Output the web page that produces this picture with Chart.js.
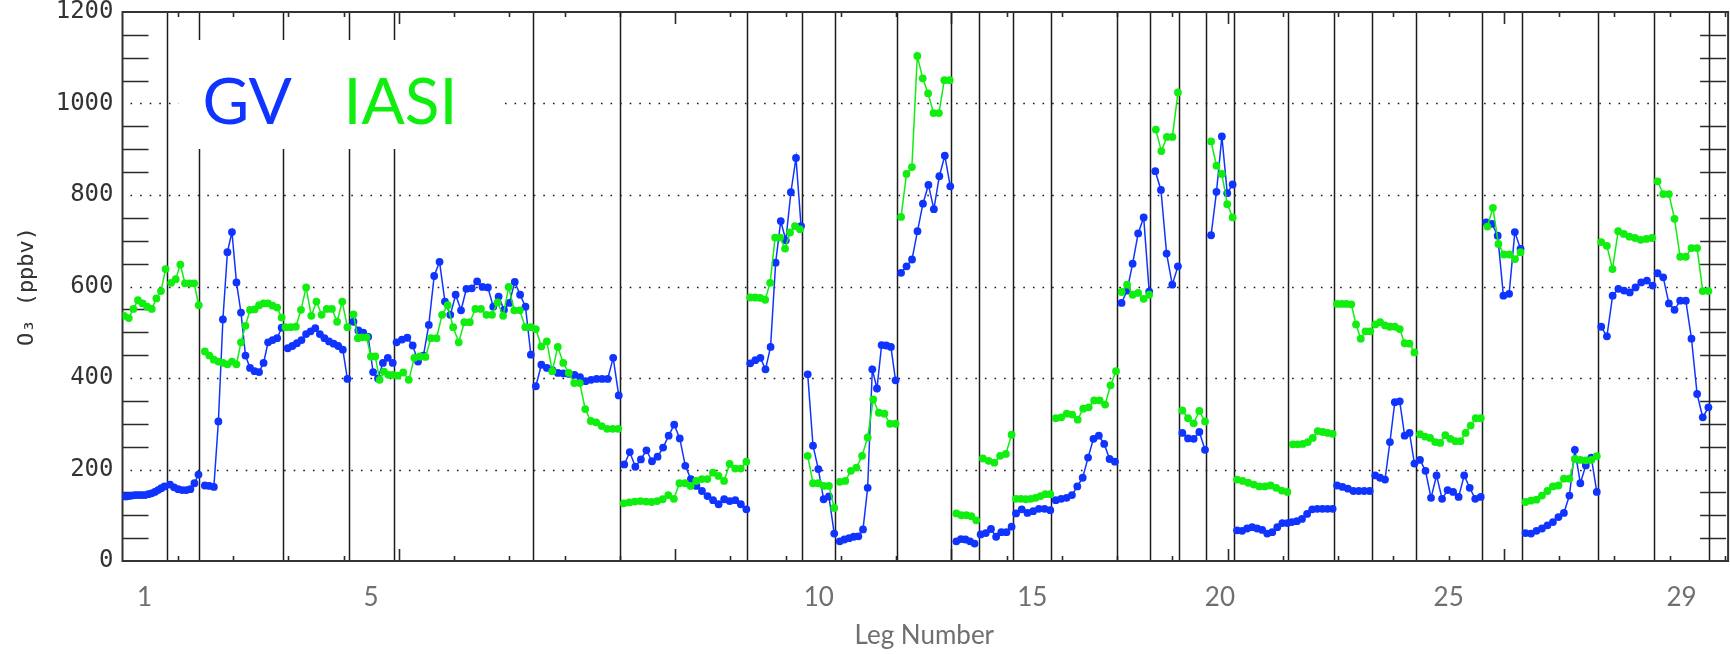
<!DOCTYPE html>
<html>
<head>
<meta charset="utf-8">
<script src="https://cdn.jsdelivr.net/npm/chart.js@4.4.1/dist/chart.umd.min.js"></script>
<style>
  html, body { margin: 0; padding: 0; background: #ffffff; }
  #wrap { width: 1730px; height: 654px; position: relative; }
</style>
</head>
<body>
<div id="wrap"><canvas id="c" width="1730" height="654"></canvas></div>
<script>
// ---- axis / leg layout (x in hours along the flight track) ----
const xMax = 29.02;
const legLabels = ['1', '5', '10', '15', '20', '25', '29'];
const legNumbersShown = [1, 5, 10, 15, 20, 25, 29];
// end of each leg (leg 1 starts at 0)
const legBounds = [0.80, 1.39, 2.90, 4.09, 4.91, 7.42, 9.00, 11.31, 12.30, 12.90,
  14.01, 15.00, 15.50, 16.12, 16.81, 18.00, 18.60, 19.12, 19.61, 20.11,
  21.10, 21.92, 22.61, 23.40, 24.60, 25.32, 26.70, 27.72, 28.71];
const yGridValues = [200, 400, 600, 800, 1000];

// ---- GV in-situ ozone (ppbv), first/last sample time of each leg and samples ----
const gvSpan = [[0.00,0.76],[0.86,1.375],[1.49,2.88],[2.99,4.07],[4.18,4.89],[4.96,7.39],
  [7.48,8.98],[9.08,11.29],[11.36,12.28],[12.40,12.88],[12.98,13.99],[14.09,14.98],
  [15.09,15.42],[15.53,16.09],[16.17,16.79],[16.89,17.96],[18.08,18.58],[18.69,19.10],
  [19.18,19.59],[19.70,20.09],[20.17,21.08],[21.16,21.90],[21.98,22.57],[22.67,23.38],
  [23.48,24.58],[24.68,25.30],[25.39,26.68],[26.76,27.69],[27.78,28.70]];
const gvLegs = [
  [141,141,142,143,144,144,144,144,146,148,151,155,159,163],
  [167,161,157,155,155,157,170,189],
  [165,164,162,305,528,675,719,609,543,449,422,415,413,433,478,483,487,510],
  [465,470,476,483,496,502,509,496,487,480,475,470,462,398],
  [523,504,499,490,413,399,433,444,433],
  [478,484,488,471,436,449,516,623,654,567,538,582,548,595,596,611,599,598,556,578,549,564,610,582,556,451],
  [382,429,422,417,411,410,409,407,402,393,396,398,398,398,444,362],
  [211,238,206,222,242,218,228,248,274,298,268,208,179,164,153,142,133,124,135,131,133,124,113],
  [432,439,444,419,468,652,743,701,806,881,732],
  [408,252,201,135,141,60],
  [43,47,50,53,54,69,160,419,377,472,471,468,395],
  [630,644,659,721,781,822,769,841,886,819],
  [43,48,47,43,38],
  [58,61,70,53,63,63,75],
  [104,113,105,109,114,114,111],
  [133,136,138,144,163,182,226,267,274,256,223,217],
  [564,591,650,716,751,589],
  [852,811,672,604,644],
  [280,268,267,282,243],
  [712,807,928,804,823],
  [67,66,71,74,71,68,60,63,74,83,83],
  [85,87,92,103,113,114,114,114,114],
  [165,162,158,153,153,153,153],
  [187,182,178,260,347,349,274,280,213],
  [221,197,138,187,136,155,151,140,187,160,136,140],
  [740,737,711,580,584,719,682],
  [61,60,66,71,78,85,96,105,143,243,170,209,226,151],
  [512,491,580,595,591,587,598,609,613,602],
  [629,620,563,549,569,569,486,365,314,336]
];

// ---- IASI retrieved ozone (ppbv) along the same legs ----
const iasiSpan = [[0.03,0.78],[0.88,1.38],[1.49,2.88],[2.95,4.07],[4.18,4.89],[4.98,7.39],
  [7.48,8.97],[9.07,11.29],[11.36,12.26],[12.40,12.88],[12.98,13.99],[14.09,14.97],
  [15.09,15.45],[15.57,16.09],[16.17,16.79],[16.89,17.98],[18.08,18.58],[18.70,19.10],
  [19.18,19.59],[19.70,20.09],[20.17,21.08],[21.18,21.90],[21.98,22.58],[22.67,23.38],
  [23.48,24.58],[24.70,25.30],[25.39,26.68],[26.76,27.68],[27.78,28.70]];
const iasiLegs = [
  [536,531,551,570,563,556,551,574,590,638],
  [608,616,648,607,607,607,559],
  [458,449,440,436,433,430,436,430,478,514,549,550,559,563,563,558,554,532],
  [511,511,512,549,598,536,567,538,551,551,523,567,511],
  [539,487,489,489,447,447,396,414,407,407],
  [405,412,396,444,447,446,487,487,538,559,511,478,522,522,551,551,538,538,565,536,599,548,548,511,511],
  [507,469,480,415,468,433,411,389,389,332,306,303,295,289,289,289],
  [126,128,130,131,130,129,131,135,144,136,170,170,164,175,179,179,193,186,175,212,202,202,217],
  [576,576,575,571,608,707,707,683,718,732,725],
  [230,170,170,164,164,116],
  [173,175,197,204,230,270,353,324,322,300,300],
  [752,846,861,1104,1055,1022,979,979,1051,1051],
  [104,100,100,98,89],
  [224,219,215,230,234,276],
  [136,136,135,136,138,142,146,146],
  [312,314,322,320,309,333,336,351,351,342,384,415],
  [588,604,582,586,573,582],
  [943,896,927,927,1024],
  [329,312,301,328,305],
  [917,864,846,780,751],
  [178,175,171,167,163,163,165,160,154,151],
  [255,255,256,260,269,284,282,280,278],
  [562,562,562,561,517,486,502,502],
  [517,522,515,512,512,507,476,475,456],
  [277,272,269,260,258,275,267,262,262,280,296,312,312],
  [731,772,693,670,670,660,675],
  [129,132,134,143,153,163,165,180,180,223,221,220,221,229],
  [697,689,638,721,715,709,706,702,704,706],
  [830,802,802,748,665,665,684,684,590,590]
];

const BLUE = '#1034ff';
const GREEN = '#10ee10';

// samples are evenly spaced in time within a leg; a null point breaks the trace between legs
function buildSeries(spans, legs) {
  const pts = [];
  legs.forEach((vals, i) => {
    const [t0, t1] = spans[i];
    const n = vals.length;
    vals.forEach((v, j) => {
      pts.push({ x: n > 1 ? t0 + (t1 - t0) * j / (n - 1) : t0, y: v });
    });
    pts.push({ x: t1, y: null });
  });
  return pts;
}

function legCenter(n) {
  const start = n === 1 ? 0 : legBounds[n - 2];
  return (start + legBounds[n - 1]) / 2;
}

const framePlugin = {
  id: 'frame',
  beforeDatasetsDraw(chart) {
    const { ctx, chartArea: a, scales: { x, y } } = chart;
    ctx.save();

    // dotted reference lines
    ctx.strokeStyle = '#1a1a1a';
    ctx.lineWidth = 1.6;
    ctx.setLineDash([1.6, 8]);
    yGridValues.forEach(v => {
      const py = Math.round(y.getPixelForValue(v)) + 0.5;
      ctx.beginPath();
      ctx.moveTo(a.left + 8, py);
      ctx.lineTo(a.right, py);
      ctx.stroke();
    });
    ctx.setLineDash([]);

    // minor y ticks every 50 ppbv, left and right edges
    ctx.strokeStyle = '#2a2a2a';
    ctx.lineWidth = 1.6;
    for (let v = 50; v < 1200; v += 50) {
      if (v % 200 === 0) continue;
      const py = Math.round(y.getPixelForValue(v)) + 0.5;
      ctx.beginPath();
      ctx.moveTo(a.left, py); ctx.lineTo(a.left + 26, py);
      ctx.moveTo(a.right - 26, py); ctx.lineTo(a.right, py);
      ctx.stroke();
    }

    // hour ticks on top and bottom edges
    for (let t = 1; t < xMax; t++) {
      const px = Math.round(x.getPixelForValue(t)) + 0.5;
      const len = t % 5 === 0 ? 12 : 5;
      ctx.beginPath();
      ctx.moveTo(px, a.top); ctx.lineTo(px, a.top + len);
      ctx.moveTo(px, a.bottom); ctx.lineTo(px, a.bottom - len);
      ctx.stroke();
    }

    // leg boundaries
    ctx.strokeStyle = '#1c1c1c';
    ctx.lineWidth = 1.5;
    legBounds.forEach(b => {
      const px = Math.round(x.getPixelForValue(b)) + 0.5;
      ctx.beginPath();
      ctx.moveTo(px, a.top); ctx.lineTo(px, a.bottom);
      ctx.stroke();
    });

    // plot frame
    ctx.strokeStyle = '#333333';
    ctx.lineWidth = 2;
    ctx.strokeRect(a.left, a.top, a.right - a.left + 2, a.bottom - a.top);

    // series key
    ctx.fillStyle = '#ffffff';
    ctx.fillRect(a.left + 56, a.top + 28, 322, 109);
    ctx.font = '64px Lato';
    ctx.textBaseline = 'alphabetic';
    ctx.textAlign = 'left';
    const ds = chart.data.datasets;
    ctx.fillStyle = ds[0].borderColor;
    ctx.fillText(ds[0].label, a.left + 80, a.top + 112);
    ctx.fillStyle = ds[1].borderColor;
    ctx.fillText(ds[1].label, a.left + 221, a.top + 112);

    ctx.restore();
  }
};

const common = {
  showLine: true,
  borderWidth: 1.5,
  pointRadius: 3.9,
  pointBorderWidth: 0,
  pointHoverRadius: 3.9,
  spanGaps: false,
  tension: 0
};

new Chart(document.getElementById('c').getContext('2d'), {
  type: 'line',
  data: {
    datasets: [
      Object.assign({ label: 'GV', data: buildSeries(gvSpan, gvLegs),
        borderColor: BLUE, backgroundColor: BLUE, pointBackgroundColor: BLUE, order: 1 }, common),
      Object.assign({ label: 'IASI', data: buildSeries(iasiSpan, iasiLegs),
        borderColor: GREEN, backgroundColor: GREEN, pointBackgroundColor: GREEN, order: 0 }, common)
    ]
  },
  options: {
    responsive: false,
    animation: false,
    devicePixelRatio: 1,
    layout: { padding: { left: 0, right: 0, top: 12, bottom: 0 } },
    plugins: { legend: { display: false }, tooltip: { enabled: false } },
    scales: {
      x: {
        type: 'linear',
        min: 0,
        max: xMax,
        afterBuildTicks: s => { s.ticks = legNumbersShown.map(n => ({ value: legCenter(n) })); },
        afterFit: s => { s.height = 93; s.paddingLeft = 0; s.paddingRight = 0; },
        ticks: {
          autoSkip: false,
          maxRotation: 0,
          padding: 21,
          color: '#6f6f6f',
          font: { family: 'Lato', size: 26 },
          callback: (v, i) => legLabels[i]
        },
        grid: { display: false, drawTicks: false },
        border: { display: false },
        title: {
          display: true,
          text: 'Leg Number',
          color: '#6f6f6f',
          font: { family: 'Lato', size: 26 },
          padding: { top: 0, bottom: 3 }
        }
      },
      y: {
        type: 'linear',
        min: 0,
        max: 1200,
        afterFit: s => { s.width = 122.5; s.paddingTop = 0; s.paddingBottom = 0; },
        ticks: {
          stepSize: 200,
          padding: 9,
          color: '#333333',
          font: { family: 'DejaVu Sans Mono', size: 24 },
          callback: v => String(v)
        },
        grid: { display: false, drawTicks: false },
        border: { display: false },
        title: {
          display: true,
          text: 'O\u2083 (ppbv)',
          color: '#333333',
          font: { family: 'DejaVu Sans Mono', size: 22 },
          padding: { top: 14, bottom: 0 }
        }
      }
    }
  },
  plugins: [framePlugin]
});
</script>
</body>
</html>
